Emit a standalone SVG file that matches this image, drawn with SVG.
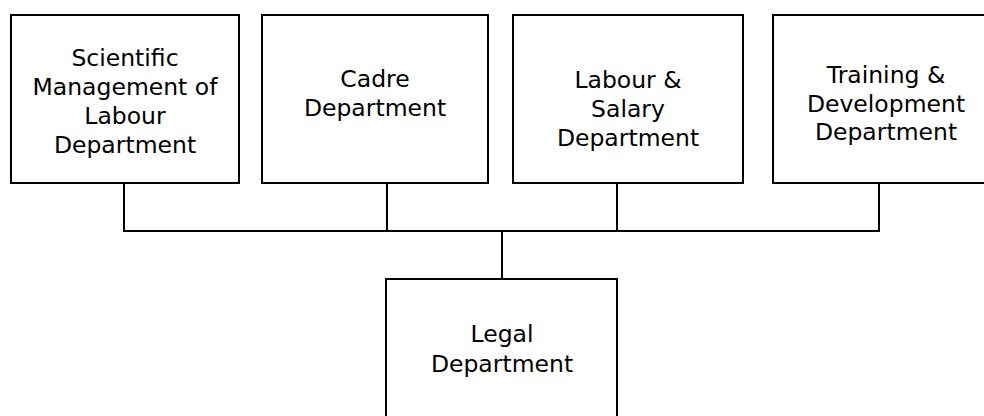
<svg xmlns="http://www.w3.org/2000/svg" width="984" height="416" viewBox="0 0 984 416">
<style>
.box{fill:#fff;stroke:#000;stroke-width:2}
.lbl{font-family:"DejaVu Sans",Verdana,sans-serif;font-size:23.5px;fill:#000;text-anchor:middle}
.con{fill:none;stroke:#000;stroke-width:2}
</style>
<rect width="984" height="416" fill="#fff"/>
<g id="connectors">
<path class="con" d="M124 183V231M387 183V231M617 183V231M879 183V231M123 231H880M502 231V279"/>
</g>
<g id="n1">
<rect class="box" x="11" y="15" width="228" height="168"/>
<text class="lbl"><tspan x="125" y="66">Scientific</tspan><tspan x="125" y="95">Management of</tspan><tspan x="125" y="124">Labour</tspan><tspan x="125" y="153">Department</tspan></text>
</g>
<g id="n2">
<rect class="box" x="262" y="15" width="226" height="168"/>
<text class="lbl"><tspan x="375" y="87">Cadre</tspan><tspan x="375" y="116">Department</tspan></text>
</g>
<g id="n3">
<rect class="box" x="513" y="15" width="230" height="168"/>
<text class="lbl"><tspan x="628" y="88">Labour &amp;</tspan><tspan x="628" y="117">Salary</tspan><tspan x="628" y="146">Department</tspan></text>
</g>
<g id="n4">
<rect class="box" x="773" y="15" width="226" height="168"/>
<text class="lbl"><tspan x="886" y="83">Training &amp;</tspan><tspan x="886" y="112">Development</tspan><tspan x="886" y="140">Department</tspan></text>
</g>
<g id="n5">
<rect class="box" x="386" y="279" width="231" height="140"/>
<text class="lbl"><tspan x="502" y="342">Legal</tspan><tspan x="502" y="372">Department</tspan></text>
</g>
</svg>
